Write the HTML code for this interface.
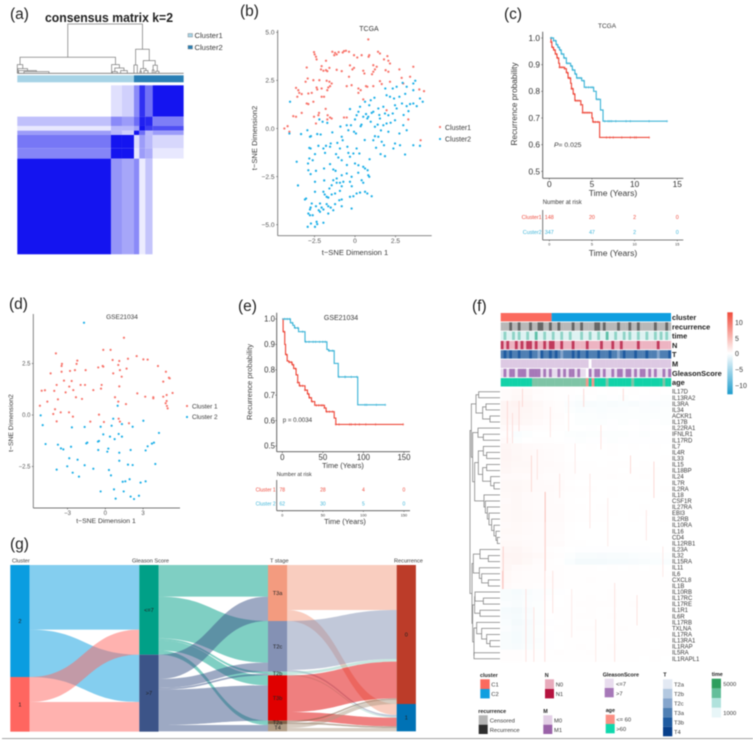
<!DOCTYPE html>
<html lang="en">
<head>
<meta charset="utf-8">
<title>Consensus clustering figure</title>
<style>
html,body{margin:0;padding:0;background:#fff;width:753px;height:741px;overflow:hidden}
svg{display:block;filter:blur(.45px);font-family:"Liberation Sans",sans-serif}
text{fill:#3a3a3a}
.panel{font-size:15.5px;fill:#222}
.bold{font-weight:bold;fill:#222}
</style>
</head>
<body>
<svg id="figure" width="753" height="741" viewBox="0 0 753 741" xmlns="http://www.w3.org/2000/svg">
  <rect width="753" height="741" fill="#fff"/>

  <!-- panel a -->
  <g id="panelA">
    <text class="panel" x="10" y="19">(a)</text>
    <text class="bold" x="45" y="22" font-size="12.5" textLength="128" lengthAdjust="spacingAndGlyphs">consensus matrix k=2</text>
    <rect x="188" y="33.5" width="4.5" height="3.5" fill="#a6d3e6" stroke="#777" stroke-width=".4"/>
    <text x="194.5" y="38" font-size="7.6">Cluster1</text>
    <rect x="188" y="45.5" width="4.5" height="3.5" fill="#2a7fb5" stroke="#777" stroke-width=".4"/>
    <text x="194.5" y="50" font-size="7.6">Cluster2</text>
  </g>

  <!-- panel b -->
  <g id="panelB">
    <text class="panel" x="240" y="16">(b)</text>
    <text x="369" y="31" font-size="7" text-anchor="middle">TCGA</text>
    <text transform="translate(257,138) rotate(-90)" font-size="7.6" text-anchor="middle">t−SNE Dimension2</text>
    <text x="355" y="255" font-size="7.6" text-anchor="middle">t−SNE Dimension 1</text>
    <line x1="277.7" y1="30" x2="277.7" y2="235.7" stroke="#777" stroke-width=".9"/>
    <line x1="277.7" y1="235.7" x2="431.7" y2="235.7" stroke="#777" stroke-width=".9"/>
    <circle cx="440" cy="127" r="1.1" fill="#f8766d"/>
    <text x="445" y="130" font-size="7">Cluster1</text>
    <circle cx="440" cy="139" r="1.1" fill="#1fb0e8"/>
    <text x="445" y="141.5" font-size="7">Cluster2</text>
  </g>

  <!-- panel c -->
  <g id="panelC">
    <text class="panel" x="504" y="19">(c)</text>
    <text x="607" y="28" font-size="6.5" text-anchor="middle">TCGA</text>
    <text transform="translate(517,104) rotate(-90)" font-size="8.3" text-anchor="middle">Recurrence probability</text>
    <text x="613" y="196" font-size="8.6" text-anchor="middle">Time (Years)</text>
    <line x1="542.7" y1="31.7" x2="542.7" y2="178.3" stroke="#555" stroke-width=".9"/>
    <line x1="542.7" y1="178.3" x2="683.3" y2="178.3" stroke="#555" stroke-width=".9"/>
    <text x="554" y="147" font-size="6.8"><tspan font-style="italic">P</tspan>= 0.025</text>
    <text x="542.7" y="204" font-size="6">Number at risk</text>
    <line x1="542.7" y1="210" x2="542.7" y2="240" stroke="#555" stroke-width=".8"/>
    <line x1="542.7" y1="240" x2="683.3" y2="240" stroke="#555" stroke-width=".8"/>
    <text x="613" y="256" font-size="8.6" text-anchor="middle">Time (Years)</text>
  </g>

  <!-- panel d -->
  <g id="panelD">
    <text class="panel" x="9" y="309">(d)</text>
    <text x="122" y="319" font-size="6.5" text-anchor="middle">GSE21034</text>
    <text transform="translate(13,423) rotate(-90)" font-size="6.8" text-anchor="middle">t−SNE Dimension2</text>
    <text x="106" y="523" font-size="6.8" text-anchor="middle">t−SNE Dimension 1</text>
    <line x1="33.3" y1="314" x2="33.3" y2="508" stroke="#777" stroke-width=".9"/>
    <line x1="33.3" y1="508" x2="180" y2="508" stroke="#777" stroke-width=".9"/>
    <circle cx="187" cy="406" r="1.1" fill="#f8766d"/>
    <text x="192" y="408.5" font-size="6.4">Cluster 1</text>
    <circle cx="187" cy="417" r="1.1" fill="#1fb0e8"/>
    <text x="192" y="419" font-size="6.4">Cluster 2</text>
  </g>

  <!-- panel e -->
  <g id="panelE">
    <text class="panel" x="238" y="311">(e)</text>
    <text x="341" y="320" font-size="7" text-anchor="middle">GSE21034</text>
    <text transform="translate(252,382) rotate(-90)" font-size="7.6" text-anchor="middle">Recurrence probability</text>
    <text x="343" y="468" font-size="7.4" text-anchor="middle">Time (Years)</text>
    <line x1="276.7" y1="312.7" x2="276.7" y2="451.7" stroke="#555" stroke-width=".9"/>
    <line x1="276.7" y1="451.7" x2="410" y2="451.7" stroke="#555" stroke-width=".9"/>
    <text x="282.7" y="422" font-size="6.2">p = 0.0034</text>
    <text x="276.7" y="476" font-size="5.4">Number at risk</text>
    <line x1="276.7" y1="480" x2="276.7" y2="510.7" stroke="#555" stroke-width=".8"/>
    <line x1="276.7" y1="510.7" x2="410" y2="510.7" stroke="#555" stroke-width=".8"/>
    <text x="345" y="524" font-size="7.4" text-anchor="middle">Time (Years)</text>
  </g>

  <!-- panel f -->
  <g id="panelF">
    <text class="panel" x="472" y="311">(f)</text>
    <defs>
      <linearGradient id="heatScale" x1="0" y1="0" x2="0" y2="1">
        <stop offset="0" stop-color="#f04a3a"/>
        <stop offset=".5" stop-color="#ffffff"/>
        <stop offset="1" stop-color="#1e9ccc"/>
      </linearGradient>
    </defs>
    <rect x="727.3" y="312.3" width="5.4" height="82" fill="url(#heatScale)"/>
    <text x="735" y="325" font-size="7">10</text>
    <text x="735" y="341" font-size="7">5</text>
    <text x="735" y="356" font-size="7">0</text>
    <text x="735" y="372" font-size="7">−5</text>
    <text x="735" y="388" font-size="7">−10</text>

    <text class="bold" x="480" y="677" font-size="5.4">cluster</text>
    <rect x="480.3" y="679.3" width="9.4" height="9.7" fill="#fb6a5e"/>
    <rect x="480.3" y="689" width="9.4" height="9.4" fill="#0f9fe0"/>
    <text x="491.3" y="686.5" font-size="5.8">C1</text>
    <text x="491.3" y="696" font-size="5.8">C2</text>

    <text class="bold" x="544.7" y="677" font-size="5.4">N</text>
    <rect x="545" y="679.3" width="9" height="9.7" fill="#e8aabb"/>
    <rect x="545" y="689" width="9" height="9.4" fill="#b5133f"/>
    <text x="555.7" y="686.5" font-size="5.8">N0</text>
    <text x="555.7" y="696" font-size="5.8">N1</text>

    <text class="bold" x="602.7" y="676.5" font-size="5.4">GleasonScore</text>
    <rect x="604.7" y="678.7" width="9" height="9.3" fill="#e8dcee"/>
    <rect x="604.7" y="688" width="9" height="9.3" fill="#a678b8"/>
    <text x="616" y="686" font-size="5.8">&lt;=7</text>
    <text x="616" y="695.5" font-size="5.8">&gt;7</text>

    <text class="bold" x="663.3" y="676.5" font-size="5.4">T</text>
    <rect x="663" y="679.3" width="9.3" height="9.5" fill="#e3e9f3"/>
    <rect x="663" y="688.8" width="9.3" height="9.5" fill="#b3c8e0"/>
    <rect x="663" y="698.3" width="9.3" height="9.5" fill="#85a5cc"/>
    <rect x="663" y="707.8" width="9.3" height="9.5" fill="#4f7fb3"/>
    <rect x="663" y="717.3" width="9.3" height="9.5" fill="#1f5ba0"/>
    <rect x="663" y="726.8" width="9.3" height="9.5" fill="#08408b"/>
    <text x="674" y="686.5" font-size="5.8">T2a</text>
    <text x="674" y="696" font-size="5.8">T2b</text>
    <text x="674" y="705.5" font-size="5.8">T2c</text>
    <text x="674" y="715" font-size="5.8">T3a</text>
    <text x="674" y="724.5" font-size="5.8">T3b</text>
    <text x="674" y="734" font-size="5.8">T4</text>

    <text class="bold" x="711.7" y="676" font-size="5.4">time</text>
    <rect x="711.7" y="678.7" width="9.3" height="9.7" fill="#2e9e5e"/>
    <rect x="711.7" y="688.4" width="9.3" height="9.7" fill="#63be9a"/>
    <rect x="711.7" y="698.1" width="9.3" height="9.7" fill="#b0e2dc"/>
    <rect x="711.7" y="707.8" width="9.3" height="9.7" fill="#e8f6f8"/>
    <text x="723.3" y="686" font-size="5.8">5000</text>
    <text x="723.3" y="715" font-size="5.8">1000</text>

    <text class="bold" x="478.3" y="713" font-size="5.4">recurrence</text>
    <rect x="478.7" y="715.3" width="9" height="9.4" fill="#b5b5b5"/>
    <rect x="478.7" y="724.7" width="9" height="9.3" fill="#2d2d2d"/>
    <text x="489.7" y="722.5" font-size="5.8">Censored</text>
    <text x="489.7" y="731.8" font-size="5.8">Recurrence</text>

    <text class="bold" x="543.3" y="713" font-size="5.4">M</text>
    <rect x="543.3" y="715.3" width="9" height="9.4" fill="#e3cfe6"/>
    <rect x="543.3" y="724.7" width="9" height="9.3" fill="#9a62a8"/>
    <text x="554" y="722.5" font-size="5.8">M0</text>
    <text x="554" y="731.8" font-size="5.8">M1</text>

    <text class="bold" x="605.7" y="712" font-size="5.4">age</text>
    <rect x="605.7" y="714.7" width="9" height="9.3" fill="#fb8f84"/>
    <rect x="605.7" y="724" width="9" height="9.3" fill="#10d8ad"/>
    <text x="616.3" y="721.5" font-size="5.8">&lt;= 60</text>
    <text x="616.3" y="731" font-size="5.8">&gt;60</text>
  </g>

  <!-- panel g -->
  <g id="panelG">
    <text class="panel" x="10" y="549">(g)</text>
    <text x="12" y="562.5" font-size="5.6">Cluster</text>
    <text x="132" y="562.5" font-size="5.6">Gleason Score</text>
    <text x="270" y="562.5" font-size="5.6">T stage</text>
    <text x="394" y="562.5" font-size="5.6">Recurrence</text>
  </g>
  <line x1="2" y1="738.6" x2="753" y2="738.6" stroke="#999" stroke-width=".9"/>
</svg>

<script>
/* ---------- panel (a): consensus matrix ---------- */
const consensusColBreaks = [0, 281, 314, 350, 366, 384, 406, 499];
const consensusRowBreaks = [0, 94, 122, 136, 149, 189, 220, 507];
const consensusValues = [
  [0.00, 0.13, 0.20, 0.50, 0.88, 0.60, 1.00],
  [0.27, 0.50, 0.42, 0.62, 0.95, 0.92, 0.55],
  [0.10, 0.30, 0.30, 0.40, 1.00, 0.82, 0.75],
  [0.42, 0.30, 0.20, 1.00, 0.62, 0.30, 0.42],
  [0.58, 1.00, 1.00, 0.15, 0.42, 0.30, 0.17],
  [0.52, 1.00, 1.00, 0.10, 0.42, 0.35, 0.10],
  [1.00, 0.45, 0.38, 0.50, 0.08, 0.25, 0.00]
];
const consensusClusterSizes = [350, 149];
const consensusTree = [148,
  [48,
    [26, 0, [14, 2, [8, 4, [5, 20, 95]]]],
    [26, 283, [16, [5, 285, 300], [8, 310, 330]]]],
  [72,
    [25, 350, 360],
    [38, [14, [6, 368, 372], [8, 380, 392]], [24, [10, 405, 410], [6, 415, 425]]]]
];

/* ---------- panel (b): TCGA t-SNE ---------- */
const tcgaTicksX = [-2.5, 0, 2.5];
const tcgaTicksY = [5, 2.5, 0, -2.5, -5];
const tcgaCluster1 = [[.82,4.63],[-2.53,3.97],[-2.49,3.85],[-2.41,3.73],[-2.37,3.59],[-1.4,3.99],[-1.23,3.93],[-1.01,3.97],[-1.28,3.81],[-1.13,3.85],[-.68,4.02],[-.56,4.04],[-.37,3.99],[-.76,3.95],[-.06,3.81],[.14,3.69],[.41,3.81],[.88,3.81],[.84,3.73],[1.42,3.99],[1.54,3.9],[2,3.76],[1.79,3.59],[2.06,3.52],[2.16,3.38],[-1.79,3.52],[-2.06,3.24],[-2.1,3.07],[-1.95,3],[-1.79,3.03],[-1.58,3.15],[-1.71,2.98],[-2.98,3.17],[-1.13,3.05],[-.31,3.28],[-.06,3.15],[-.16,3.07],[-.82,2.98],[.51,3],[.58,2.86],[1.13,3.29],[1.34,3.21],[1.23,3.07],[1.13,2.95],[1.05,2.82],[1.89,3.03],[2.06,2.95],[2.74,3.07],[3.6,3.21],[-.37,2.69],[-2.92,2.6],[-3.05,2.43],[-2.57,2.51],[-2.2,2.51],[-1.75,2.48],[-1.58,2.43],[-1.44,2.34],[-1.54,2.2],[-1.65,2.13],[-3.64,2.11],[-3.5,1.99],[-3.44,1.85],[-3.56,1.65],[-3.29,1.79],[-2.88,1.82],[-2.67,1.85],[-2.37,2.13],[-2.33,2.03],[-2.06,2.08],[-1.71,1.99],[-1.91,1.65],[-2.06,1.65],[-2.98,1.3],[-2.88,1.27],[-2.57,1.39],[-1.81,1.02],[-2.22,.81],[-2.26,.69],[-2.53,.61],[-2.41,.26],[-1.69,.69],[-1.44,.52],[-1.54,.57],[-1.71,.47],[-4.36,0],[-4.16,.12],[-4.05,-.17],[-3.81,.64],[-3.64,.61],[-3.29,.81],[-.51,2.2],[-.21,2.25],[.21,2.08],[.35,1.99],[.21,1.85],[.76,2.17],[.68,2.2],[1.13,2.2],[1.54,2.46],[1.65,2.31],[2.16,2.43],[2.88,2.63],[3.4,2.69],[2.98,2.34],[3.97,2.03],[4.26,1.94],[3.29,.47],[4.05,-.61],[-.51,.57],[-.68,.57],[1.95,.95],[.51,1.51]];
const tcgaCluster2 = [[-4.01,1.39],[-4.05,-.26],[-3.33,-.29],[-3.6,-1.73],[-3.52,-2.96],[-2.78,-.43],[-2.72,-.4],[-2.33,-.29],[-2.12,-.31],[-2.2,.47],[-2,.35],[-1.71,.29],[-2.94,-.09],[-2.82,-1.01],[-2.74,-1.04],[-2.26,-.9],[-1.95,-1.04],[-1.79,-.9],[-1.5,-.78],[-1.09,-.75],[-.82,-.43],[-.76,-.61],[-.51,.17],[-.25,.17],[0,.47],[-.31,1.01],[.31,1.13],[.62,1.39],[.97,1.47],[.88,1.21],[.68,.75],[.82,.61],[1.03,.81],[1.13,.87],[1.44,1.04],[1.75,1.13],[1.85,.78],[2.06,.69],[2.33,.78],[2.57,1.04],[2.47,1.21],[2.16,1.65],[2.41,1.56],[2.74,1.65],[3.19,1.16],[3.4,1.27],[3.6,1.3],[3.81,1.16],[4.01,1.56],[4.18,1.39],[3.6,1.99],[3.72,2.48],[3.6,2.34],[3.19,2.17],[2.94,2.37],[2.57,2.17],[2.33,2.08],[1.87,2.08],[1.95,1.73],[.21,.87],[.1,.69],[.51,.61],[.76,.52],[.97,.35],[.35,.12],[-.06,-.17],[.06,-.26],[-.41,-.09],[1.23,.09],[1.54,.52],[1.75,.17],[1.95,.26],[2.47,.43],[2.98,.17],[3.19,-.09],[2.74,-.26],[2.06,-.17],[1.44,-.43],[1.23,-.4],[1.13,-.61],[1.65,-.69],[1.79,-.87],[2.47,-.78],[2.37,-1.04],[2.78,-.87],[3.6,-.87],[4.01,-.9],[3.09,-1.35],[1.85,-1.44],[1.58,-1.33],[.1,-1.04],[.27,-1.3],[-.47,-.95],[-.41,-1.27],[-.93,-1.04],[-1.17,-1.33],[-1.54,-.95],[-1.85,-1.27],[-2.47,-1.33],[-2.82,-1.56],[-2.9,-1.82],[-2.61,-1.65],[-2.88,-2.17],[-2.74,-2.37],[-2.41,-2.2],[-1.91,-2.08],[-1.54,-1.85],[-1.34,-2.13],[-1.03,-1.51],[-.82,-1.65],[-.31,-1.47],[0,-1.82],[.21,-1.91],[.51,-1.99],[.62,-2.08],[.78,-2.17],[.82,-2.43],[.88,-2.51],[-.82,-2.43],[-.51,-2.34],[-.21,-2.51],[-1.13,-2.6],[-1.34,-2.69],[-1.13,-2.82],[-.93,-2.82],[-.72,-2.77],[-.31,-2.77],[.41,-2.69],[.51,-2.82],[-1.44,-2.95],[-1.58,-3.12],[-.82,-3],[-.93,-3.24],[-2.47,-2.77],[-2.47,-3.29],[-1.95,-3.29],[-1.87,-3.43],[-1.75,-3.55],[-1.65,-3.59],[-1.44,-3.43],[-1.23,-3.38],[-.97,-3.73],[-.82,-3.69],[-.31,-3.55],[-.1,-3.52],[.1,-3.38],[.31,-3.33],[.62,-3.29],[.76,-3.38],[1.03,-3.52],[-3.02,-3.64],[-3.09,-3.69],[-2.67,-3.9],[-2.74,-4.11],[-2.78,-4.21],[-2.88,-4.42],[-2.78,-4.51],[-2.61,-4.51],[-2.41,-4.04],[-2.16,-3.9],[-2.06,-4.11],[-1.75,-3.93],[-1.65,-4.04],[-1.5,-4.11],[-1.23,-3.93],[-1.34,-4.25],[-1.65,-4.42],[-1.95,-4.21],[-2.16,-4.33],[-2.24,-4.25],[-.82,-4.04],[-.21,-4.16],[-2.72,-4.94],[-2.37,-4.85],[-2.33,-4.97],[-2.47,-5.11],[-2.92,-5.11],[-1.95,-4.9],[3,.7],[1.4,.2],[1.6,-.1],[.6,-.6],[-.1,-1.3],[.9,-1.6],[1.3,-1],[-1.2,-2.2],[-.5,-1.9],[.2,-2.3],[-1.9,-2.7],[-.2,-3],[2.2,.3],[2.9,1.3],[3.1,1.8],[3.3,.9],[1.2,1.6],[1.5,.7],[.4,.2],[-.9,.1],[-1.4,-.2]];

/* ---------- panel (c): TCGA Kaplan-Meier ---------- */
const tcgaKmTicksX = [0, 5, 10, 15];
const tcgaKmTicksY = [1.0, 0.9, 0.8, 0.7, 0.6, 0.5];
const tcgaRedTimes = [0.1,0.2,0.3,0.5,0.7,0.9,1.1,1.2,1.8,2.0,2.2,2.5,2.6,2.8,3.0,3.7,3.9,5.0,5.1,5.9,11.7];
const tcgaRedProb = [1.0,0.985,0.965,0.955,0.94,0.925,0.905,0.89,0.885,0.87,0.85,0.83,0.81,0.79,0.765,0.75,0.72,0.70,0.685,0.627,0.627];
const tcgaBlueTimes = [0.1,0.5,0.8,1.0,1.2,1.4,1.7,2.0,2.5,2.7,3.0,3.2,3.8,4.1,5.2,5.5,6.0,6.3,13.8];
const tcgaBlueProb = [1.0,0.99,0.975,0.965,0.955,0.94,0.925,0.905,0.895,0.88,0.865,0.85,0.84,0.815,0.80,0.77,0.73,0.688,0.688];
const tcgaRedCensor = [0.2,0.4,0.6,0.8,1.0,1.2,1.4,1.6,1.8,2.1,2.3,2.4,2.6,2.7,2.9,3.1,3.3,3.5,3.7,3.9,4.1,4.3,4.5,4.7,5.2,5.4,5.7,6.7,7.1,7.5,8.5,9.5,10,10.2,11.7];
const tcgaBlueCensor = [0.2,0.3,0.5,0.7,0.9,1.1,1.3,1.5,1.8,2.1,2.3,2.6,2.8,3.1,3.3,3.5,3.7,4.0,4.3,4.6,4.9,5.1,5.6,5.8,6.5,6.9,7.1,7.3,7.8,9.0,9.5,11.7,13.8];
const tcgaRiskTimes = [0, 5, 10, 15];
const tcgaRiskCluster1 = [148, 20, 2, 0];
const tcgaRiskCluster2 = [347, 47, 2, 0];

/* ---------- panel (d): GSE21034 t-SNE ---------- */
const gseTicksX = [-3, 0, 3];
const gseTicksY = [2.5, 0, -2.5];
const gseCluster1 = [[1.48,3.75],[-.16,3.16],[.42,3.16],[-3.92,2.99],[2.49,2.86],[1.8,2.73],[3.02,2.7],[3.36,2.69],[-2.22,2.64],[-2.28,2.48],[.58,2.67],[1.11,2.62],[4.18,2.38],[-3.44,2.48],[-3.47,2.38],[-3.47,2.1],[-4.34,2.02],[-2.8,2.14],[-2.41,2.18],[-1.56,2.18],[-.56,2.31],[-.21,2.38],[-.16,2.35],[1.03,2.43],[1.16,2.18],[1.69,2.25],[.63,2.02],[1.3,1.86],[4.81,2.1],[5.05,1.81],[5.11,1.78],[4.6,1.62],[-3.28,1.67],[-2.67,1.65],[-3.86,1.46],[-2.86,1.38],[-1.96,1.46],[-1.61,1.46],[-.29,1.46],[-.34,1.28],[-.95,1.21],[-2.54,1.21],[-3.15,1.1],[-4.05,1.17],[-4.79,1.2],[-5.05,1.18],[1.11,1.39],[2.54,1.05],[3.17,.89],[3.81,.86],[3.81,.81],[4.6,.89],[4.87,.97],[5.34,1.07],[4.87,.68],[4.79,.57],[4.89,.44],[4.95,.32],[-4.6,.65],[-3.76,.76],[-2.33,.86],[-1.85,.78],[.77,.86],[1.03,.65],[1.64,.53],[-5.19,.45],[-3.99,.28],[-4.13,.05],[-3.54,.13],[-2.88,.13],[-2.57,-.08],[-3.86,-.31],[-1.19,-.32],[-.5,.02],[-.11,-.34],[1.06,-.18],[1.16,-.32],[1.88,-.4]];
const gseCluster2 = [[-1.69,4.48],[.98,.45],[-5.13,-.02],[.63,-.18],[-4.97,-.49],[3.02,-.28],[1.32,-.44],[2.17,-.57],[-2.65,-.6],[-1.64,-.58],[-.37,-.57],[.5,-.52],[4.26,-.87],[-.16,-.94],[1.06,-.92],[1.32,-1.05],[.37,-1.05],[.74,-1.17],[-4.74,-1.41],[-3.76,-1.44],[-1.43,-1.34],[-1.51,-1.38],[-.5,-1.26],[-.58,-1.29],[3.86,-1.34],[3.7,-1.39],[3.36,-1.52],[-2.72,-1.54],[-3.52,-1.62],[-3.33,-1.67],[.24,-1.63],[-.56,-1.7],[.16,-1.78],[1.11,-1.83],[2.01,-1.7],[3.2,-1.72],[-2.86,-2.1],[-2.2,-2.17],[1.11,-2.22],[-3.02,-2.49],[-1.64,-2.44],[1.8,-2.41],[2.17,-2.43],[3.97,-2.38],[-3.86,-2.65],[-.95,-2.61],[.29,-2.67],[-2.59,-2.8],[.45,-2.93],[-2.09,-2.99],[1.38,-3.24],[1.59,-3.22],[1.93,-3.12],[2.8,-3.28],[3.2,-3.22],[.69,-3.61],[-.37,-3.71],[1.46,-3.71],[2.01,-3.96],[2.28,-4.08],[2.67,-3.92],[.82,-4.06]];

/* ---------- panel (e): GSE21034 Kaplan-Meier ---------- */
const gseKmTicksX = [0, 50, 100, 150];
const gseKmTicksY = [1.0, 0.9, 0.8, 0.7, 0.6, 0.5];
const gseRedTimes = [0,1,3,4,6,8,12,14,17,19,21,28,31,33,36,40,52,54,64,66,149];
const gseRedProb = [1.0,0.95,0.90,0.86,0.835,0.83,0.82,0.805,0.78,0.75,0.737,0.72,0.705,0.69,0.675,0.66,0.65,0.635,0.61,0.585,0.585];
const gseBlueTimes = [0,10,13,15,20,28,30,55,57,64,66,69,93,95,127];
const gseBlueProb = [1.0,0.985,0.975,0.965,0.95,0.91,0.91,0.88,0.875,0.825,0.825,0.772,0.662,0.662,0.662];
const gseRedCensor = [2,5,9,11,13,16,19,22,25,28,32,34,37,42,45,48,50,52,55,58,62,66,70,83,85,90,95,103,115,149];
const gseBlueCensor = [3,6,9,12,16,19,25,29,33,38,41,46,50,53,58,62,70,77,78,85,92,102,104,116,127];
const gseRiskTimes = [0, 50, 100, 150];
const gseRiskCluster1 = [78, 28, 4, 0];
const gseRiskCluster2 = [62, 30, 5, 0];

/* ---------- panel (f): heatmap ---------- */
const clusterSizes = [148, 347];
const trackNames = ["recurrence","time","N","T","M","GleasonScore","age"];
const trackRecurrence = "000100100010011001001000010010000110100001000100100000100010";
const trackTime = "010010100100200100100100100010010010020010010100100100101010";
const trackN = "101001010110100101100100010000100001000100100000100000010000";
const trackT = "343433433343324334343233343433433343334332343334333433323334";
const trackM = "000000000000000000000000000000020000000000000000000000000000";
const trackGleason = "010110111011110101001010110100210110100101101101011010100101";
const trackAge = "111111111112222222222222222222010111121111111121111111111211";
const geneLabels = ["IL17D","IL13RA2","IL3RA","IL34","ACKR1","IL17B","IL22RA1","IFNLR1","IL17RD","IL7","IL4R","IL33","IL15","IL18BP","IL24","IL7R","IL2RA","IL18","CSF1R","IL27RA","EBI3","IL2RB","IL10RA","IL16","CD4","IL12RB1","IL23A","IL32","IL15RA","IL11","IL6","CXCL8","IL1B","IL10RB","IL17RC","IL17RE","IL1R1","IL6R","IL17RB","TXLNA","IL17RA","IL13RA1","IL1RAP","IL5RA","IL1RAPL1"];
const heatValues = [
  [.4,.6,.6,.4,.2,.1,.1,0,.1,0,.1,0,.1,0,.1,0],
  [.4,.7,.7,.3,.2,.1,-.1,-.2,0,-.2,-.1,-.2,0,-.1,-.1,-.2],
  [1,1.2,1,.7,.4,.2,-.3,-.5,-.5,-.4,-.5,-.4,-.5,-.3,-.4,-.3],
  [1,1,.9,.6,.4,.2,-.2,-.4,-.3,-.4,-.3,-.3,-.2,-.3,-.3,-.2],
  [1,1,.8,.6,.4,.3,0,-.2,-.2,-.3,-.2,-.2,-.2,-.2,-.2,-.2],
  [.8,.9,.7,.5,.3,.2,0,-.2,-.2,-.2,-.1,-.2,-.1,-.2,-.1,-.2],
  [.5,.3,.3,.2,.2,.1,0,0,-.1,0,-.1,0,0,-.1,0,0],
  [.2,-.4,-.2,0,0,0,-.2,-.3,-.2,-.2,-.2,-.2,-.1,-.2,-.1,-.1],
  [.5,-.2,0,.1,.1,0,-.1,-.2,-.1,-.1,-.2,-.1,-.1,-.1,-.1,-.1],
  [.9,.7,.5,.4,.3,.3,.1,0,.1,0,.1,0,.1,0,.1,0],
  [1,.7,.6,.5,.4,.3,.1,0,0,0,.1,0,0,0,0,0],
  [1,.8,.6,.5,.4,.3,.1,0,0,0,0,0,0,0,0,.1],
  [.9,.7,.7,.5,.5,.4,.2,.1,.1,0,.1,.1,0,.1,0,.1],
  [.8,.6,.6,.5,.4,.4,.2,.1,.1,.1,.1,0,.1,.1,.1,.1],
  [.5,.5,.4,.4,.3,.3,.2,.1,.1,.1,.2,.1,.1,.2,.1,.1],
  [.7,.7,.6,.5,.4,.4,.1,0,0,0,0,0,0,0,0,0],
  [.7,.8,.6,.5,.5,.4,.2,.1,.1,0,.1,0,.1,.1,0,.1],
  [.6,.7,.5,.4,.4,.3,.1,.1,0,0,.1,0,0,0,0,0],
  [.5,.7,.5,.4,.4,.3,.1,0,0,0,0,0,0,0,0,0],
  [.6,.7,.5,.4,.4,.4,.1,.1,0,.1,0,0,0,.1,0,0],
  [.6,.7,.6,.5,.5,.5,.2,.1,.1,.1,.1,0,.1,.1,0,.1],
  [.6,.7,.6,.5,.5,.5,.2,.1,.1,.1,0,0,.1,0,0,.1],
  [.5,.6,.5,.4,.4,.4,.1,0,0,0,0,0,0,0,0,0],
  [.6,.6,.5,.4,.4,.4,.1,0,0,0,0,0,0,0,0,0],
  [.5,.5,.4,.4,.4,.3,.1,0,0,0,0,0,0,0,0,0],
  [.6,.6,.5,.4,.4,.4,.1,.1,0,0,0,0,0,0,0,0],
  [.8,.9,.6,.4,.2,.1,0,-.1,-.1,-.1,-.1,-.1,-.1,-.1,0,0],
  [1,1,.8,.6,.3,.2,-.2,-.5,-.5,-.6,-.5,-.5,-.4,-.3,-.3,-.2],
  [.9,1,.7,.4,.2,.1,-.4,-.8,-.8,-.8,-.7,-.7,-.6,-.5,-.4,-.4],
  [.8,.5,.4,.3,.2,.2,.1,.1,.1,0,.1,0,.1,0,.1,0],
  [.6,.4,.3,.3,.2,.2,.1,.1,.1,.1,.1,.1,.1,.1,.1,.1],
  [.6,.4,.3,.3,.3,.2,.1,.1,.2,.1,.1,.1,.1,.1,.1,.1],
  [.5,.3,.3,.2,.2,.2,.1,.1,.1,.1,.1,.1,.1,.1,.1,.1],
  [-.5,-.7,-.5,-.3,-.2,-.1,0,.1,.1,.1,.2,.1,.1,.1,.1,.1],
  [-.5,-.6,-.4,-.3,-.1,0,.1,.1,.2,.1,.2,.1,.1,.1,.1,.1],
  [-.3,-.5,-.3,-.2,0,0,.1,.2,.2,.2,.2,.1,.2,.1,.1,.1],
  [-.7,-.8,-.5,-.2,0,.1,.1,.1,.2,.1,.1,.1,.1,.1,.1,.1],
  [-.6,-.7,-.4,-.2,0,.1,.1,.2,.2,.1,.2,.1,.1,.1,.1,.1],
  [-.4,-.8,-.6,-.3,-.1,0,.1,.1,.1,.1,.1,.1,.1,.1,.1,.1],
  [-.3,-.6,-.5,-.2,0,.1,.1,.2,.2,.1,.1,.2,.1,.1,.1,.1],
  [-.5,-.7,-.5,-.2,-.1,0,.1,.1,.1,.1,.1,.1,.1,.1,.1,.1],
  [-.5,-.7,-.5,-.3,-.1,0,.1,.1,.1,.1,.1,.1,.1,.1,0,.1],
  [-.5,-.6,-.4,-.2,-.1,0,.1,.2,.1,.1,.2,.1,.1,.1,0,.1],
  [.2,.2,.1,.1,.1,.2,.1,.1,.2,.1,.1,.1,.1,.1,.1,.1],
  [.2,.2,.1,.1,.1,.1,.1,.1,.1,.1,.1,.1,.1,0,.1,0]
];
/* streaks: sample index (0..495), first gene row, last gene row, score */
const heatStreaks = [
  [128,17,29,7],[127,22,44,3.5],[52,2,6,3.5],[18,2,8,4],[33,4,8,3.5],[62,0,2,4],[6,26,32,5],[4,30,32,5.5],
  [88,11,16,4],[105,10,14,3],[143,3,7,2.6],[170,14,17,3],[196,1,6,2.2],[215,9,13,2.2],[240,0,2,4],[258,14,22,2.6],
  [290,6,9,3],[310,18,25,2.2],[330,32,44,3],[355,0,1,4],[376,11,13,4],[395,34,38,3],[422,20,24,2.6],[444,12,17,4],
  [470,26,30,2.4],[72,33,44,3],[95,36,44,3],[150,30,36,3],[205,33,40,2.2],[275,38,44,2.2]
];
const heatTree = [90,
  [86,
    [72, [64, 0, 1], [52, [42, 2, 3], [30, 4, 5]]],
    [82,
      [66, 6, [50, 7, 8]],
      [76,
        [65, [50, 9, [40, 10, 11]], [52, [40, 12, 13], [28, 14, [18, 15, 16]]]],
        [48, 17, [44, 18, [38, 19, [33, 20, [25, 21, [18, 22, [12, 23, [8, 24, 25]]]]]]]]]]],
  [84,
    [80,
      [60, 26, [35, 27, 28]],
      [62, 29, [55, 30, [35, 31, 32]]]],
    [82,
      [76, [75, 33, [50, 34, 35]], [60, 36, 37]],
      [78, [70, 38, [55, 39, [40, 40, [30, 41, 42]]]], [78, 43, 44]]]]
];

/* ---------- panel (g): sankey ---------- */
const sankeyNodeIds = ["c2","c1","le7","gt7","T3a","T2c","T2b","T3b","T2a","T4","r0","r1"];
const sankeyNodeLabels = ["2","1","<=7",">7","T3a","T2c","T2b","T3b","T2a","T4","0","1"];
const sankeyNodeColumns = [0,0,1,1,2,2,2,2,2,2,3,3];
const sankeyNodeColors = ["#0a9de0","#ff6660","#00a087","#3c5488","#f39b7f","#8491b4","#91d1c2","#e00000","#7e6148","#b09c85","#bc3c29","#0072b5"];
const sankeySources = ["c2","c2","c1","c1","le7","le7","le7","le7","le7","le7","gt7","gt7","gt7","gt7","gt7","T3a","T3a","T2c","T2c","T2b","T2b","T3b","T3b","T2a","T2a","T4","T4"];
const sankeyTargets = ["le7","gt7","le7","gt7","T3a","T2c","T2b","T3b","T2a","T4","T3a","T2c","T2b","T3b","T4","r0","r1","r0","r1","r0","r1","r0","r1","r0","r1","r0","r1"];
const sankeyValues = [194,142,75,89,95,125,6,30,10,3,73,27,5,106,19,135,33,147,5,8,3,110,26,5,5,12,10];

/* ---------- drawing helpers ---------- */
const NS = "http://www.w3.org/2000/svg";
function node(parent, tag, attrs){
  const e = document.createElementNS(NS, tag);
  for (const k in attrs) e.setAttribute(k, attrs[k]);
  parent.appendChild(e);
  return e;
}
function tickLabel(parent, x, y, str, size, anchor, color){
  const t = node(parent, "text", {x:x, y:y, "font-size":size, "text-anchor":anchor, fill:color||"#555", style:"fill:"+(color||"#555")});
  t.textContent = str;
  
  
  return t;
}
function tickMark(parent, x1, y1, x2, y2){
  const l = node(parent, "line", {x1:x1, y1:y1, x2:x2, y2:y2, stroke:"#555", "stroke-width":.6});
  
  
}
function drawTree(parent, tree, posFn, heightFn, horizontal){
  function walk(n){
    if (typeof n === "number") return {pos:n, h:0};
    const a = walk(n[1]), b = walk(n[2]);
    const h = n[0];
    const d = horizontal
      ? `M${heightFn(a.h)} ${posFn(a.pos)}H${heightFn(h)}V${posFn(b.pos)}H${heightFn(b.h)}`
      : `M${posFn(a.pos)} ${heightFn(a.h)}V${heightFn(h)}H${posFn(b.pos)}V${heightFn(b.h)}`;
    const p = node(parent, "path", {d:d, fill:"none", stroke:"#808080", "stroke-width":.75});
    
    
    return {pos:(a.pos+b.pos)/2, h:h};
  }
  walk(tree);
}
function mix(a, b, t){
  return "rgb(" + a.map((v,i)=>Math.round(v+(b[i]-v)*t)).join(",") + ")";
}

/* ---------- panel a render ---------- */
(function(){
  const g = document.getElementById("panelA");
  const xA = s => 17.3 + s/3;
  const yA = s => 85.3 + s/3;
  consensusValues.forEach((row, r) => {
    row.forEach((v, c) => {
      const cell = node(g, "rect", {
        x: xA(consensusColBreaks[c]), y: yA(consensusRowBreaks[r]),
        width: (consensusColBreaks[c+1]-consensusColBreaks[c])/3,
        height: (consensusRowBreaks[r+1]-consensusRowBreaks[r])/3,
        fill: mix([255,255,255],[20,20,240],v)
      });
      
      
    });
  });
  let start = 0;
  const barColors = ["#a6d3e6","#2a7fb5"];
  consensusClusterSizes.forEach((n, i) => {
    const bar = node(g, "rect", {x:xA(start), y:75.3, width:n/3, height:7, fill:barColors[i]});
    
    
    start += n;
  });
  const base = node(g, "line", {x1:xA(0), y1:73.3, x2:xA(499), y2:73.3, stroke:"#777", "stroke-width":.8});
  
  
  drawTree(g, consensusTree, xA, h => 73.3 - h/3, false);
})();

/* ---------- scatter render ---------- */
function scatter(gid, c1, c2, xs, ys, ticksX, ticksY, xTickY, yTickX, axisX, axisY, tickSize, r){
  const g = document.getElementById(gid);
  ticksX.forEach(v => {
    tickMark(g, xs(v), axisY, xs(v), axisY+1.5);
    tickLabel(g, xs(v), xTickY, String(v).replace("-","−"), tickSize, "middle");
  });
  ticksY.forEach(v => {
    tickMark(g, axisX-1.5, ys(v), axisX, ys(v));
    tickLabel(g, yTickX, ys(v)+tickSize*.35, v.toFixed(1).replace("-","−"), tickSize, "end");
  });
  c1.forEach(p => {
    const dot = node(g, "circle", {cx:xs(p[0]), cy:ys(p[1]), r:r, fill:"#f8766d"});
    
    
  });
  c2.forEach(p => {
    const dot = node(g, "circle", {cx:xs(p[0]), cy:ys(p[1]), r:r, fill:"#1fb0e8"});
    
    
  });
}
scatter("panelB", tcgaCluster1, tcgaCluster2, v => 355 + v*16.2, v => 128.5 - v*19.24,
  tcgaTicksX, tcgaTicksY, 243, 274.5, 277.7, 235.7, 6.6, 1.15);
scatter("panelD", gseCluster1, gseCluster2, v => 105.3 + v*12.6, v => 415 - v*20.6,
  gseTicksX, gseTicksY, 515, 30.5, 33.3, 508, 6, 1.1);

/* ---------- Kaplan-Meier render ---------- */
function stepPath(times, probs, xs, ys){
  let d = `M${xs(times[0])} ${ys(probs[0])}`;
  for (let i = 1; i < times.length; i++){
    d += `H${xs(times[i])}V${ys(probs[i])}`;
  }
  return d;
}
function probAt(times, probs, t){
  let p = probs[0];
  for (let i = 0; i < times.length; i++){ if (times[i] <= t) p = probs[i]; }
  return p;
}
function km(cfg){
  const g = document.getElementById(cfg.id);
  cfg.ticksX.forEach(v => {
    tickMark(g, cfg.xs(v), cfg.axisY, cfg.xs(v), cfg.axisY+1.5);
    tickLabel(g, cfg.xs(v), cfg.xTickY, String(v), cfg.tickSize, "middle", "#333");
  });
  cfg.ticksY.forEach(v => {
    tickMark(g, cfg.axisX-1.5, cfg.ys(v), cfg.axisX, cfg.ys(v));
    tickLabel(g, cfg.yTickX, cfg.ys(v)+cfg.tickSize*.35, v.toFixed(1), cfg.tickSize, "end", "#333");
  });
  cfg.series.forEach(s => {
    const line = node(g, "path", {d:stepPath(s.times, s.probs, cfg.xs, cfg.ys), fill:"none", stroke:s.color, "stroke-width":1.15});
    
    
    s.censor.forEach(t => {
      const y = cfg.ys(probAt(s.times, s.probs, t)), x = cfg.xs(t);
      const m = node(g, "path", {d:`M${x} ${y-1.2}V${y+1.2}M${x-1.1} ${y}H${x+1.1}`, stroke:s.color, "stroke-width":.5, fill:"none"});
      
      
    });
  });
  cfg.riskTimes.forEach(t => {
    tickLabel(g, cfg.xs(t), cfg.riskTickY, String(t), cfg.riskTickSize, "middle", "#333");
    tickMark(g, cfg.xs(t), cfg.riskAxisY, cfg.xs(t), cfg.riskAxisY+1.2);
  });
  cfg.risk.forEach(row => {
    tickLabel(g, cfg.axisX-1, row.y, row.label, cfg.riskSize, "end", row.color);
    row.values.forEach((v, i) => {
      tickLabel(g, cfg.xs(cfg.riskTimes[i]), row.y, String(v), cfg.riskSize, "middle", row.color);
    });
  });
}
const kmRed = "#ee4a3c", kmBlue = "#3fb5d8";
km({id:"panelC", xs:t => 549.3 + t*8.53, ys:p => 38 + (1-p)*266.7,
  ticksX:tcgaKmTicksX, ticksY:tcgaKmTicksY, axisX:542.7, axisY:178.3, xTickY:187, yTickX:540, tickSize:8.3,
  series:[{times:tcgaRedTimes,probs:tcgaRedProb,censor:tcgaRedCensor,color:kmRed},{times:tcgaBlueTimes,probs:tcgaBlueProb,censor:tcgaBlueCensor,color:kmBlue}],
  riskTimes:tcgaRiskTimes, riskTickY:245.5, riskTickSize:3.8, riskAxisY:240, riskSize:5.4,
  risk:[{label:"Cluster1",values:tcgaRiskCluster1,y:219,color:kmRed},{label:"Custer2",values:tcgaRiskCluster2,y:234,color:kmBlue}]});
km({id:"panelE", xs:t => 282.3 + t*.811, ys:p => 319 + (1-p)*254,
  ticksX:gseKmTicksX, ticksY:gseKmTicksY, axisX:276.7, axisY:451.7, xTickY:460, yTickX:275, tickSize:7.8,
  series:[{times:gseRedTimes,probs:gseRedProb,censor:gseRedCensor,color:kmRed},{times:gseBlueTimes,probs:gseBlueProb,censor:gseBlueCensor,color:kmBlue}],
  riskTimes:gseRiskTimes, riskTickY:516.5, riskTickSize:3.8, riskAxisY:510.7, riskSize:5,
  risk:[{label:"Cluster 1",values:gseRiskCluster1,y:491.5,color:kmRed},{label:"Cluster 2",values:gseRiskCluster2,y:505.5,color:kmBlue}]});

/* ---------- heatmap render ---------- */
(function(){
  const g = document.getElementById("panelF");
  const left = 500.7, width = 170.3;
  const xSample = s => left + s/495*width;
  const rowY = r => 388.7 + r*6.07;
  const red = [240,74,58], blue = [30,156,204], white = [255,255,255];
  const heatColor = v => v >= 0 ? mix(white, red, Math.min(1, v/18)) : mix(white, blue, Math.min(1, -v/16));
  const cw = width/heatValues[0].length;

  let acc = 0;
  const clusterColors = ["#fb6a5e","#0f9fe0"];
  clusterSizes.forEach((n, i) => {
    const seg = node(g, "rect", {x:xSample(acc), y:313, width:n/495*width, height:8.4, fill:clusterColors[i]});
    
    
    acc += n;
  });
  const trackData = [trackRecurrence, trackTime, trackN, trackT, trackM, trackGleason, trackAge];
  const trackPalette = [
    ["#b8b8b8","#666666"],
    ["#def2f2","#8fd3c6","#5fbfa8","#1f9a6a"],
    ["#edb4c2","#c03a5c"],
    ["#e3e9f3","#b3c8e0","#85a5cc","#4f7fb3","#1f5ba0","#08408b"],
    ["#ddc9e3","#9a62a8","#ffffff"],
    ["#e8dcee","#a678b8","#ffffff"],
    ["#ee9a8c","#12d2a8","#7ec4a6"]
  ];
  trackData.forEach((str, t) => {
    const y = 322.3 + t*9.3, w = width/str.length;
    str.split("").forEach((ch, i) => {
      const cell = node(g, "rect", {x:left+i*w, y:y, width:w+.2, height:8.4, fill:trackPalette[t][+ch]});
      
      
    });
    const lab = node(g, "text", {x:672, y:y+7, "font-size":7.4, class:"bold"});
    lab.textContent = trackNames[t];
    
    
  });
  const clusterLab = node(g, "text", {x:672, y:320, "font-size":7.4, class:"bold"});
  clusterLab.textContent = "cluster";
  
  

  heatValues.forEach((row, r) => {
    row.forEach((v, c) => {
      const cell = node(g, "rect", {x:left+c*cw, y:rowY(r), width:cw+.2, height:6.2, fill:heatColor(v)});
      
      
    });
    const lab = node(g, "text", {x:672, y:rowY(r)+5, "font-size":6});
    lab.textContent = geneLabels[r];
    
    
  });
  heatStreaks.forEach(s => {
    const st = node(g, "rect", {x:xSample(s[0]), y:rowY(s[1]), width:.9, height:(s[2]-s[1]+1)*6.07, fill:heatColor(s[3])});
    
    
  });
  drawTree(g, heatTree, r => rowY(r)+3, h => 500 - h/3, true);
})();

/* ---------- sankey render ---------- */
(function(){
  const g = document.getElementById("panelG");
  const colLeft = [10.3, 139.3, 268, 396.7];
  const nodeW = 19.2, top = 565, unit = 1/3;
  const idx = id => sankeyNodeIds.indexOf(id);
  const totals = sankeyNodeIds.map(id => {
    let a = 0, b = 0;
    sankeySources.forEach((s, i) => { if (s === id) a += sankeyValues[i]; });
    sankeyTargets.forEach((t, i) => { if (t === id) b += sankeyValues[i]; });
    return Math.max(a, b);
  });
  const colY = [top, top, top, top];
  const nodeTop = sankeyNodeIds.map((id, i) => {
    const y = colY[sankeyNodeColumns[i]];
    colY[sankeyNodeColumns[i]] += totals[i]*unit;
    return y;
  });
  const outOff = sankeyNodeIds.map(() => 0), inOff = sankeyNodeIds.map(() => 0);
  sankeyValues.forEach((v, i) => {
    const a = idx(sankeySources[i]), b = idx(sankeyTargets[i]);
    const x0 = colLeft[sankeyNodeColumns[a]] + nodeW, x1 = colLeft[sankeyNodeColumns[b]];
    const y0 = nodeTop[a] + outOff[a]*unit, y1 = nodeTop[b] + inOff[b]*unit;
    const h = v*unit, mx = (x0+x1)/2;
    outOff[a] += v; inOff[b] += v;
    const rib = node(g, "path", {
      d:`M${x0} ${y0}C${mx} ${y0} ${mx} ${y1} ${x1} ${y1}V${y1+h}C${mx} ${y1+h} ${mx} ${y0+h} ${x0} ${y0+h}Z`,
      fill:sankeyNodeColors[a], "fill-opacity":.5
    });
    
    
  });
  sankeyNodeIds.forEach((id, i) => {
    const r = node(g, "rect", {x:colLeft[sankeyNodeColumns[i]], y:nodeTop[i], width:nodeW, height:totals[i]*unit, fill:sankeyNodeColors[i]});
    
    
  });
  sankeyNodeIds.forEach((id, i) => {
    const t = node(g, "text", {x:colLeft[sankeyNodeColumns[i]]+nodeW/2, y:nodeTop[i]+totals[i]*unit/2+2, "font-size":5.6, "text-anchor":"middle", style:"fill:#222"});
    t.textContent = sankeyNodeLabels[i];
    
    
  });
})();
</script>
</body>
</html>
